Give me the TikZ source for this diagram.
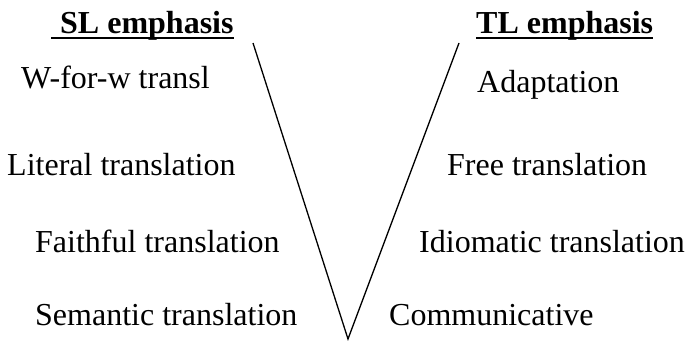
\documentclass[tikz,border=0pt]{standalone}
\usepackage{fontspec}
\setmainfont{Liberation Serif}
\usepackage{amsmath}

\tikzset{
  lbl/.style={anchor=base west,inner sep=0pt,font=\fontsize{32}{38}\selectfont},
  hdg/.style={lbl,font=\fontsize{32}{38}\selectfont\bfseries},
  uline/.style={line width=2pt},
  vline/.style={line width=1.3pt}
}

\begin{document}
\begin{tikzpicture}[x=1pt,y=-1pt]
\useasboundingbox (0,0) rectangle (688,340);

% headings
\node[hdg] (slh) at (60,33) {SL emphasis};
\node[hdg] (tlh) at (476,33) {TL emphasis};
\draw[uline] ([xshift=-9pt,yshift=-5pt]slh.base west) -- ([yshift=-5pt]slh.base east);
\draw[uline] ([yshift=-5pt]tlh.base west) -- ([yshift=-5pt]tlh.base east);

% left column
\node[lbl] (wfw) at (21,88) {W-for-w transl};
\node[lbl] (lit) at (7,175) {Literal translation};
\node[lbl] (fai) at (35,252) {Faithful translation};
\node[lbl] (sem) at (35,325) {Semantic translation};

% right column
\node[lbl] (ada) at (477,92) {Adaptation};
\node[lbl] (fre) at (447,175) {Free translation};
\node[lbl] (idi) at (419,252) {Idiomatic translation};
\node[lbl] (com) at (389,325) {Communicative};

% the V
\coordinate (vl) at (253,43);
\coordinate (vb) at (348,339);
\coordinate (vr) at (459,43);
\draw[vline] (vl) -- (vb) -- (vr);

\end{tikzpicture}
\end{document}
